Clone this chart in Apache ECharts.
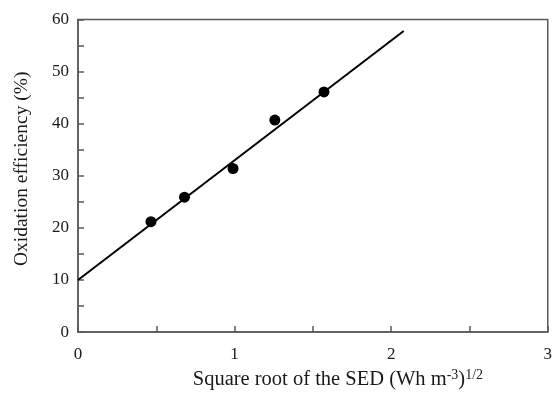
<!DOCTYPE html>
<html><head><meta charset="utf-8">
<script src="https://cdn.jsdelivr.net/npm/echarts@6/dist/echarts.min.js"></script>
<style>html,body{margin:0;padding:0;background:#fff}#c{width:555px;height:395px}</style>
</head><body><div id="c"></div>
<script>
const pointsX = [0.466, 0.68, 0.99, 1.257, 1.571];
const pointsY = [21.2, 25.9, 31.4, 40.7, 46.1];
const fitX = [0, 2.08];
const fitY = [10, 57.8];
const xTicks = [0, 1, 2, 3];
const yTicks = [0, 10, 20, 30, 40, 50, 60];

const font = '"Liberation Serif", "Times New Roman", serif';
const axisCol = '#5a5a5a';
const chart = echarts.init(document.getElementById('c'));
chart.setOption({
  animation: false,
  grid: {left: 78, right: 2, top: 19.5, bottom: 58, show: true, borderColor: axisCol, borderWidth: 1.5},
  xAxis: {
    type: 'value', min: xTicks[0], max: xTicks[xTicks.length-1], interval: 0.5,
    axisLine: {lineStyle: {color: axisCol, width: 1.5}},
    axisTick: {inside: true, length: 6, lineStyle: {color: axisCol, width: 1.5}},
    splitLine: {show: false},
    axisLabel: {color: '#1a1a1a', fontFamily: font, fontSize: 17, margin: 14,
      formatter: v => xTicks.includes(v) ? String(v) : ''},
    name: 'Square root of the SED (Wh m{sup|-3}){sup|1/2}',
    nameLocation: 'middle', nameGap: 34,
    nameTextStyle: {color: '#1a1a1a', fontFamily: font, fontSize: 20.5, padding: [0, 0, 0, 50],
      rich: {sup: {fontFamily: font, fontSize: 14, color: '#1a1a1a', verticalAlign: 'top', padding: [0,0,9,0]}}}
  },
  yAxis: {
    type: 'value', min: yTicks[0], max: yTicks[yTicks.length-1], interval: 5,
    axisLine: {show: true, lineStyle: {color: axisCol, width: 1.5}},
    axisTick: {show: true, inside: true, length: 6, lineStyle: {color: axisCol, width: 1.5}},
    splitLine: {show: false},
    axisLabel: {color: '#1a1a1a', fontFamily: font, fontSize: 17, margin: 9,
      formatter: v => yTicks.includes(v) ? String(v) : ''},
    name: 'Oxidation efficiency (%)', nameLocation: 'middle', nameGap: 46,
    nameTextStyle: {color: '#1a1a1a', fontFamily: font, fontSize: 19.5, padding: [0, 0, 0, 14]}
  },
  series: [
    {type: 'line', data: fitX.map((x,i)=>[x, fitY[i]]), showSymbol: false, symbol: 'none',
     lineStyle: {color: '#000', width: 2}, silent: true},
    {type: 'scatter', data: pointsX.map((x,i)=>[x, pointsY[i]]), symbolSize: 11,
     itemStyle: {color: '#000', opacity: 1}}
  ]
});
</script></body></html>
